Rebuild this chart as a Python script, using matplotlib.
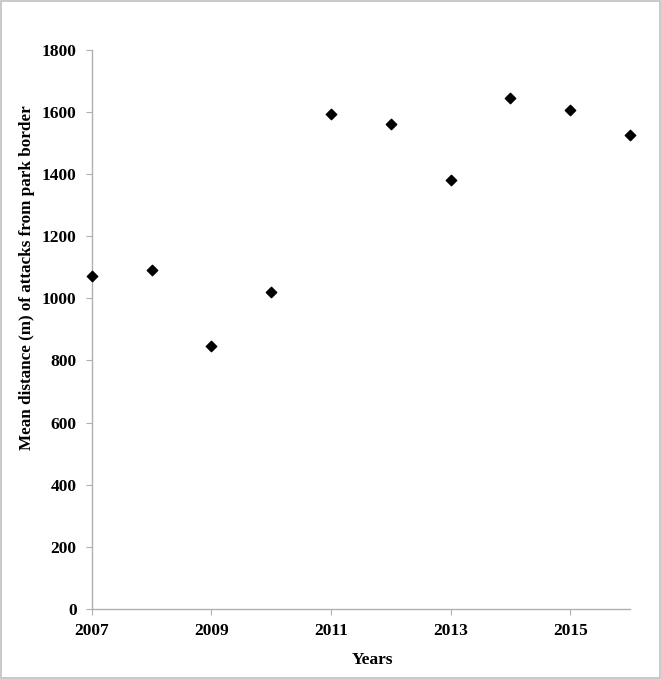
import matplotlib.pyplot as plt

# data
years = [2007, 2008, 2009, 2010, 2011, 2012, 2013, 2014, 2015, 2016]
mean_distance = [1071, 1091, 846, 1020, 1593, 1560, 1380, 1644, 1607, 1524]

plt.rcParams['font.family'] = ['Liberation Serif', 'DejaVu Serif']
plt.rcParams['font.weight'] = 'bold'

fig = plt.figure(figsize=(6.61, 6.79), dpi=100)
ax = fig.add_axes([0.139, 0.103, 0.814, 0.824])

ax.scatter(years, mean_distance, marker='D', s=28, color='black', zorder=3, clip_on=False)

ax.set_xlim(2007, 2016)
ax.set_ylim(0, 1800)
ax.set_xticks([2007, 2009, 2011, 2013, 2015])
ax.set_yticks(range(0, 1801, 200))

for side in ['top', 'right']:
    ax.spines[side].set_visible(False)
for side in ['left', 'bottom']:
    ax.spines[side].set_color('#b0b0b0')
    ax.spines[side].set_linewidth(1)
ax.tick_params(colors='#b0b0b0', labelcolor='black', labelsize=12.5, length=4)
ax.tick_params(axis='y', pad=7)
ax.tick_params(axis='x', pad=6)
for lab in ax.get_xticklabels() + ax.get_yticklabels():
    lab.set_fontweight('bold')

ax.set_xlabel('Years', fontsize=12.5, fontweight='bold')
ax.xaxis.label.set_va('center')
ax.xaxis.set_label_coords(0.522, -0.091)
ax.set_ylabel('Mean distance (m) of attacks from park border', fontsize=12.3, fontweight='bold')
ax.yaxis.label.set_va('center')
ax.yaxis.set_label_coords(-0.121, 0.5925)

# grey frame around the figure
fig.patches.append(plt.Rectangle((0.001, 0.001), 0.997, 0.997, transform=fig.transFigure,
                                 fill=False, edgecolor='#c0c0c0', linewidth=1.2))

fig.savefig('out.png', dpi=100)
